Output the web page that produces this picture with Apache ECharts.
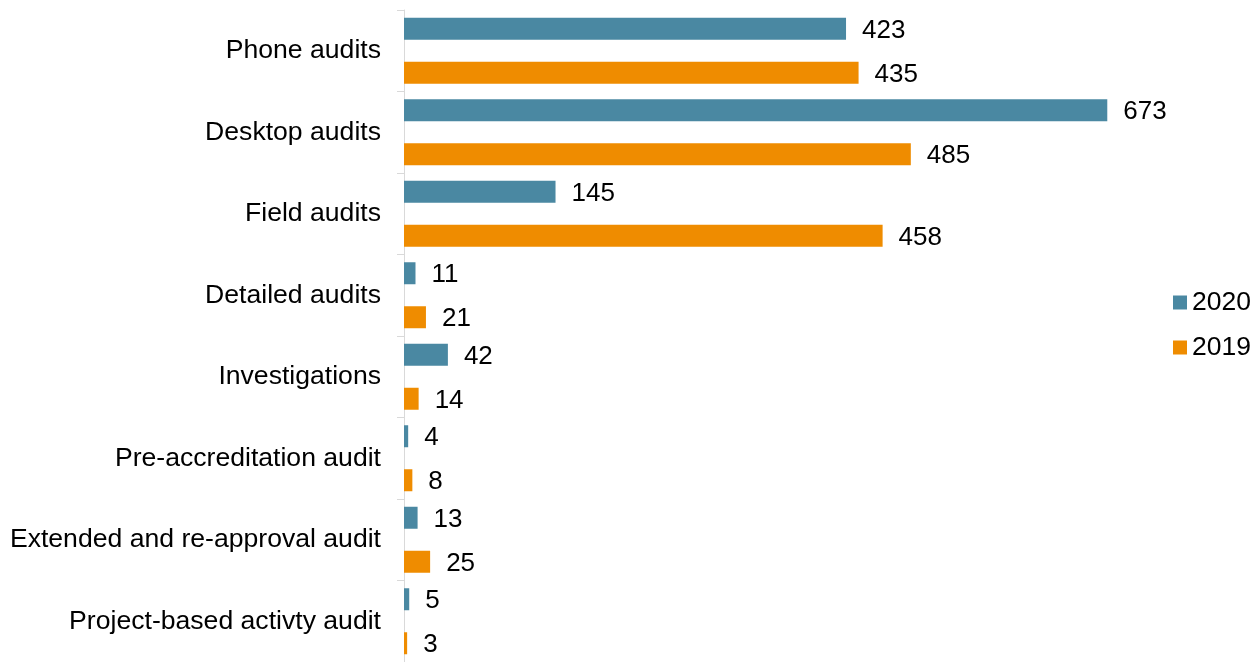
<!DOCTYPE html>
<html>
<head>
<meta charset="utf-8">
<script src="https://cdn.jsdelivr.net/npm/echarts@6/dist/echarts.min.js"></script>
<style>
html,body{margin:0;padding:0;background:#fff;}
#chart{width:1260px;height:662px;}
</style>
</head>
<body>
<div id="chart"></div>
<script>
const categories = ['Phone audits','Desktop audits','Field audits','Detailed audits','Investigations','Pre-accreditation audit','Extended and re-approval audit','Project-based activty audit'];
const values2020 = [423, 673, 145, 11, 42, 4, 13, 5];
const values2019 = [435, 485, 458, 21, 14, 8, 25, 3];
const seriesNames = ['2020', '2019'];

const FONT = '"Liberation Sans", Arial, sans-serif';
const chart = echarts.init(document.getElementById('chart'));
const labelCfg = {show: true, position: 'right', distance: 16, color: '#000', fontSize: 26, fontFamily: FONT, offset: [0, 2]};
chart.setOption({
  animation: false,
  textStyle: {fontFamily: FONT},
  grid: {left: 404, top: 10, width: 731.5, height: 658, containLabel: false},
  legend: {
    orient: 'vertical', left: 1173, top: 289, padding: 0,
    itemWidth: 14, itemHeight: 14, itemGap: 18,
    icon: 'rect',
    textStyle: {fontSize: 26.5, color: '#000', fontFamily: FONT, lineHeight: 26},
    data: seriesNames
  },
  xAxis: {type: 'value', min: 0, max: 700, show: false},
  yAxis: {
    type: 'category', data: categories, inverse: true,
    axisLine: {show: true, lineStyle: {color: '#d9d9d9', width: 1}},
    axisTick: {show: true, length: 7, lineStyle: {color: '#d9d9d9'}},
    axisLabel: {color: '#000', fontSize: 26.6, fontFamily: FONT, margin: 23, padding: [2, 0, 0, 0]}
  },
  series: [
    {name: seriesNames[0], type: 'bar', data: values2020, barWidth: 22, barGap: '100%', itemStyle: {color: '#4a88a2'}, label: labelCfg},
    {name: seriesNames[1], type: 'bar', data: values2019, barWidth: 22, barGap: '100%', itemStyle: {color: '#ef8c00'}, label: labelCfg}
  ]
});
</script>
</body>
</html>
